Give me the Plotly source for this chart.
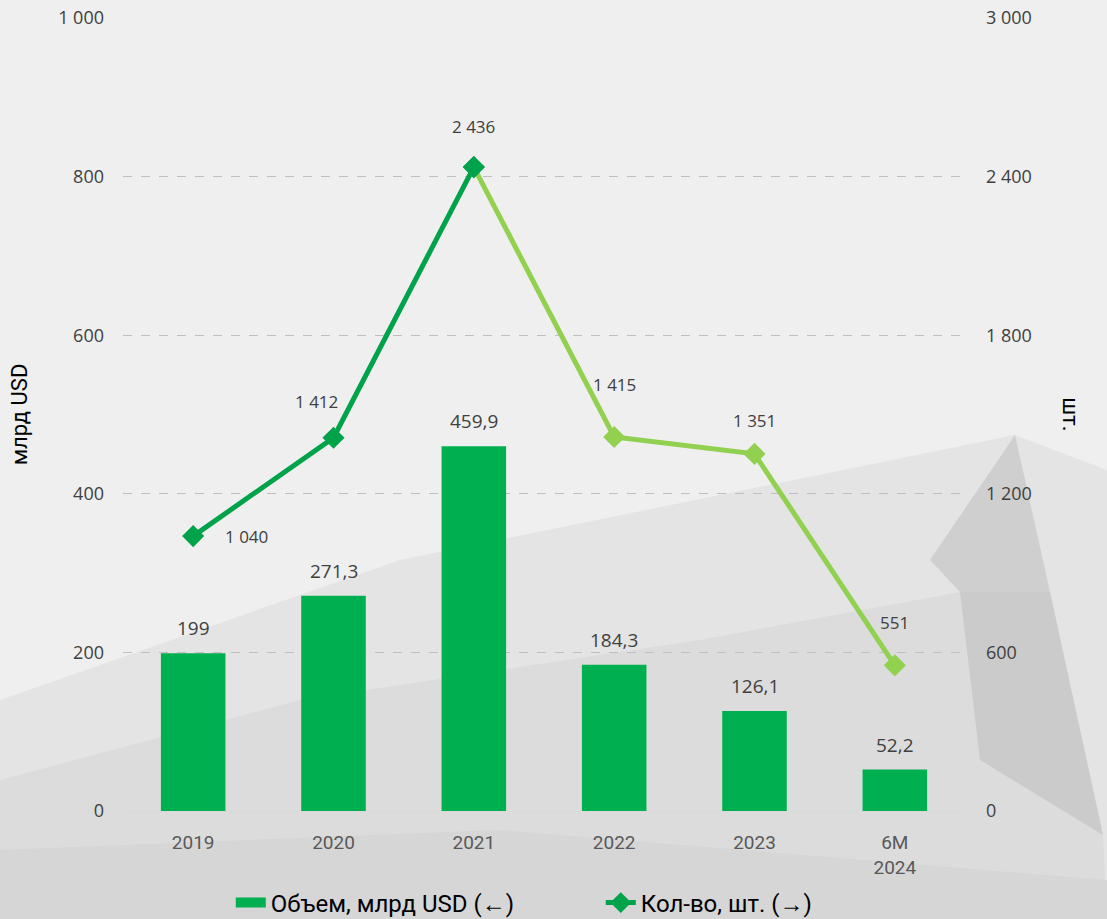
import plotly.graph_objects as go

categories = ["2019", "2020", "2021", "2022", "2023", "6M<br>2024"]
volume_bn_usd = [199, 271.3, 459.9, 184.3, 126.1, 52.2]
deal_count = [1040, 1412, 2436, 1415, 1351, 551]
left_ticks = [0, 200, 400, 600, 800, 1000]
right_ticks = [0, 600, 1200, 1800, 2400, 3000]

GREEN = "#00B050"
DARK = "#00A24A"
LIGHT = "#92D050"
TXT = "#404040"


def ru(v):
    s = f"{v:,}".replace(",", " ").replace(".", ",")
    return s


fig = go.Figure()

fig.add_trace(go.Bar(
    x=categories, y=volume_bn_usd, showlegend=False,
    marker=dict(color=GREEN, line=dict(width=0)), width=0.46,
    hoverinfo="skip",
))
# legend stand-in for the bars (wide swatch)
fig.add_trace(go.Scatter(
    x=[None], y=[None], mode="lines", name="Объем, млрд USD (&#8592;)",
    line=dict(color=GREEN, width=16),
))

# decline part, light green (drawn first so the 2021 dark marker sits on top)
fig.add_trace(go.Scatter(
    x=categories[2:], y=deal_count[2:], yaxis="y2", mode="lines+markers",
    line=dict(color=LIGHT, width=5),
    marker=dict(symbol="diamond", size=17, color=[DARK] + [LIGHT] * 3),
    showlegend=False, hoverinfo="skip",
))
fig.add_trace(go.Scatter(
    x=categories[:3], y=deal_count[:3], yaxis="y2", mode="lines+markers",
    name="Кол-во, шт. (&#8594;)",
    line=dict(color=DARK, width=5),
    marker=dict(symbol="diamond", size=17, color=DARK),
    hoverinfo="skip",
))

# labels (annotation x on a category axis = category index)
for i, v in enumerate(volume_bn_usd):
    fig.add_annotation(x=i, y=v, yref="y", text=ru(v), showarrow=False,
                       yshift=25, font=dict(size=19, color=TXT, family="Open Sans"))
shifts = [(53, 0), (-17, 36), (0, 41), (0, 52), (0, 33), (0, 43)]
for i, (v, (dx, dy)) in enumerate(zip(deal_count, shifts)):
    fig.add_annotation(x=i, y=v, yref="y2", text=ru(v), showarrow=False,
                       xshift=dx, yshift=dy,
                       font=dict(size=17, color=TXT, family="Open Sans"))

fig.add_annotation(x=1.125, y=0.5, xref="paper", yref="paper", text="шт.",
                   textangle=90, showarrow=False, xanchor="center", yanchor="middle",
                   font=dict(size=22, color="#000000", family="Roboto"))


# background facets
def poly(pts, color):
    path = "M " + " L ".join(f"{(x - 123) / 842:.4f},{(811 - y) / 793:.4f}" for x, y in pts) + " Z"
    fig.add_shape(type="path", path=path, xref="paper", yref="paper",
                  fillcolor=color, line=dict(width=0), layer="below")


poly([(0, 919), (0, 700), (400, 560), (1015, 435), (1107, 470), (1107, 919)], "#e4e4e4")
poly([(0, 919), (0, 780), (300, 700), (700, 640), (960, 592), (1050, 592), (1103, 835), (1107, 919)], "#dcdcdc")
poly([(930, 560), (1015, 435), (1050, 592), (960, 592)], "#cfcfcf")
poly([(960, 592), (1050, 592), (1103, 835), (980, 760)], "#cbcbcb")
poly([(0, 919), (0, 850), (500, 830), (1107, 880), (1107, 919)], "#d6d6d6")

fig.update_layout(
    width=1107, height=919,
    margin=dict(l=123, r=142, t=18, b=108, autoexpand=False),
    paper_bgcolor="#efefef", plot_bgcolor="rgba(0,0,0,0)",
    separators=", ",
    bargap=0.54,
    font=dict(family="Open Sans", color="#595959"),
    showlegend=True,
    legend=dict(orientation="h", x=0.128, xanchor="left", y=-0.116, yanchor="middle",
                font=dict(size=24, color="#000000", family="Roboto"),
                entrywidth=325, bgcolor="rgba(0,0,0,0)", traceorder="normal"),
    xaxis=dict(type="category", range=[-0.5, 5.5], showline=True, linecolor="#d9d9d9",
               linewidth=1, showgrid=False,
               tickfont=dict(size=19, color="#595959", family="Roboto"),
               ticks="", ticklabelstandoff=14, fixedrange=True),
    yaxis=dict(range=[0, 1000], tickvals=left_ticks, separatethousands=True,
               showgrid=True, gridcolor="#bfbfbf", griddash="dash", gridwidth=1,
               zeroline=False, showline=False, ticks="",
               tickfont=dict(size=18, color="#404040"), ticklabelstandoff=18,
               title=dict(text="млрд USD", standoff=24,
                          font=dict(size=22, color="#000000", family="Roboto"))),
    yaxis2=dict(range=[0, 3000], tickvals=right_ticks, separatethousands=True,
                overlaying="y", side="right", showgrid=False, zeroline=False,
                showline=False, ticks="", ticklabelstandoff=20,
                tickfont=dict(size=18, color="#404040")),
)

fig.write_html("out.html", config={"displayModeBar": False},
               post_script="document.body.style.margin='0px';")
